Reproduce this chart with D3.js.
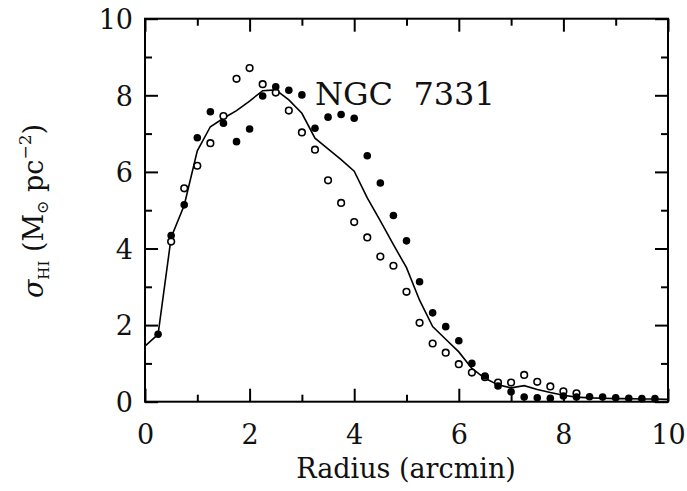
<!DOCTYPE html>
<html><head><meta charset="utf-8">
<script src="https://cdn.jsdelivr.net/npm/d3@7"></script>
<style>body{margin:0;background:#fff} svg{display:block}</style>
</head><body><svg id="c" width="687" height="491"></svg>
<script>
// Data
const radiusFilled = [0.25,0.5,0.75,1.0,1.25,1.5,1.75,2.0,2.25,2.5,2.75,3.0,3.25,3.5,3.75,4.0,4.25,4.5,4.75,5.0,5.25,5.5,5.75,6.0,6.25,6.5,6.75,7.0,7.25,7.5,7.75,8.0,8.25,8.5,8.75,9.0,9.25,9.5,9.75];
const sigmaFilled  = [1.76,4.34,5.14,6.89,7.57,7.27,6.79,7.12,7.98,8.22,8.13,8.01,7.14,7.43,7.50,7.40,6.42,5.71,4.86,4.20,3.13,2.32,1.96,1.59,1.00,0.67,0.41,0.26,0.12,0.10,0.09,0.15,0.12,0.13,0.12,0.10,0.09,0.08,0.08];

const radiusOpen = [0.5,0.75,1.0,1.25,1.5,1.75,2.0,2.25,2.5,2.75,3.0,3.25,3.5,3.75,4.0,4.25,4.5,4.75,5.0,5.25,5.5,5.75,6.0,6.25,6.5,6.75,7.0,7.25,7.5,7.75,8.0,8.25];
const sigmaOpen  = [4.18,5.57,6.16,6.75,7.46,8.43,8.71,8.29,8.07,7.60,7.03,6.58,5.78,5.19,4.69,4.29,3.79,3.55,2.87,2.06,1.52,1.28,0.98,0.76,0.64,0.50,0.50,0.70,0.52,0.40,0.27,0.22];

const radiusLine = [0,0.25,0.5,0.75,1.0,1.25,1.5,1.75,2.0,2.25,2.5,2.75,3.0,3.25,3.5,3.75,4.0,4.25,4.5,4.75,5.0,5.25,5.5,5.75,6.0,6.25,6.5,6.75,7.0,7.25,7.5,7.75,8.0,8.25,8.5,8.75,9.0,9.25,9.5,9.75,10];
const sigmaLine  = [1.45,1.76,4.29,5.13,6.55,7.18,7.40,7.60,7.85,8.12,8.14,7.88,7.53,6.88,6.60,6.32,6.02,5.32,4.72,4.10,3.50,2.65,1.96,1.63,1.30,0.87,0.61,0.44,0.36,0.42,0.32,0.24,0.17,0.12,0.10,0.09,0.08,0.08,0.07,0.07,0.06];

const xMajorTicks = [0,2,4,6,8,10];
const xMinorTicks = [1,3,5,7,9];
const yMajorTicks = [0,2,4,6,8,10];
const yMinorTicks = [1,3,5,7,9];
const galaxyLabel = "NGC  7331";

const W = 687, H = 491;
const m = {left:145, right:19, top:18.7, bottom:89.3};
const svg = d3.select("#c");
const x = d3.scaleLinear().domain([0,10]).range([m.left, W-m.right]);
const y = d3.scaleLinear().domain([0,10]).range([H-m.bottom, m.top]);
const font = "'DejaVu Serif', serif";

function tickAxis(axisFn, scale, vals, size, tr) {
  const a = axisFn(scale).tickValues(vals).tickSizeInner(size).tickSizeOuter(0).tickFormat("");
  const g = svg.append("g").attr("transform", tr).call(a);
  g.select(".domain").remove();
  g.selectAll(".tick line").attr("stroke","#000").attr("stroke-width",2);
  return g;
}
const bottomY = H - m.bottom, rightX = W - m.right;
tickAxis(d3.axisBottom, x, xMajorTicks, -13, `translate(0,${bottomY})`);
tickAxis(d3.axisBottom, x, xMinorTicks, -7, `translate(0,${bottomY})`);
tickAxis(d3.axisTop, x, xMajorTicks, -13, `translate(0,${m.top})`);
tickAxis(d3.axisTop, x, xMinorTicks, -7, `translate(0,${m.top})`);
tickAxis(d3.axisLeft, y, yMajorTicks, -13, `translate(${m.left},0)`);
tickAxis(d3.axisLeft, y, yMinorTicks, -7, `translate(${m.left},0)`);
tickAxis(d3.axisRight, y, yMajorTicks, -13, `translate(${rightX},0)`);
tickAxis(d3.axisRight, y, yMinorTicks, -7, `translate(${rightX},0)`);

// tick labels
const xl = d3.axisBottom(x).tickValues(xMajorTicks).tickSize(0).tickPadding(0).tickFormat(d3.format("d"));
const gxl = svg.append("g").attr("transform", `translate(0,${bottomY})`).call(xl);
gxl.select(".domain").remove();
gxl.selectAll("text").attr("font-family",font).attr("font-size",27).attr("fill","#111").attr("dy",null).attr("y",42);

const yl = d3.axisLeft(y).tickValues(yMajorTicks).tickSize(0).tickPadding(12).tickFormat(d3.format("d"));
const gyl = svg.append("g").attr("transform", `translate(${m.left},0)`).call(yl);
gyl.select(".domain").remove();
gyl.selectAll("text").attr("font-family",font).attr("font-size",27).attr("fill","#111").attr("dy","0.36em");

// frame
svg.append("rect").attr("x",m.left).attr("y",m.top).attr("width",rightX-m.left).attr("height",bottomY-m.top)
  .attr("fill","none").attr("stroke","#000").attr("stroke-width",2);

// data line
const line = d3.line().x((d,i)=>x(radiusLine[i])).y(d=>y(d));
svg.append("path").datum(sigmaLine).attr("d",line).attr("fill","none").attr("stroke","#000").attr("stroke-width",1.6);

// open circles
svg.append("g").selectAll("circle").data(sigmaOpen).join("circle")
  .attr("cx",(d,i)=>x(radiusOpen[i])).attr("cy",d=>y(d)).attr("r",3.3)
  .attr("fill","#fff").attr("stroke","#000").attr("stroke-width",1.6);
// filled circles
svg.append("g").selectAll("circle").data(sigmaFilled).join("circle")
  .attr("cx",(d,i)=>x(radiusFilled[i])).attr("cy",d=>y(d)).attr("r",3.8)
  .attr("fill","#000");

// label
svg.append("text").attr("x",315).attr("y",105).attr("font-family",font).attr("font-size",32)
  .attr("fill","#111").style("white-space","pre").text(galaxyLabel);

// x title
svg.append("text").attr("x",406).attr("y",478).attr("text-anchor","middle")
  .attr("font-family",font).attr("font-size",27).attr("fill","#111").text("Radius (arcmin)");

// y title
const yt = svg.append("text").attr("transform","translate(43,211) rotate(-90)").attr("text-anchor","middle")
  .attr("font-family",font).attr("font-size",27).attr("fill","#111");
yt.append("tspan").attr("font-style","italic").text("σ");
yt.append("tspan").attr("font-size",15).attr("dy",6).text("HI");
yt.append("tspan").attr("dy",-6).text(" (M");
yt.append("tspan").attr("font-size",16).attr("dy",5).text("⊙");
yt.append("tspan").attr("dy",-5).text(" pc");
yt.append("tspan").attr("font-size",17).attr("dy",-12).text("−2");
yt.append("tspan").attr("dy",12).text(")");
</script></body></html>
